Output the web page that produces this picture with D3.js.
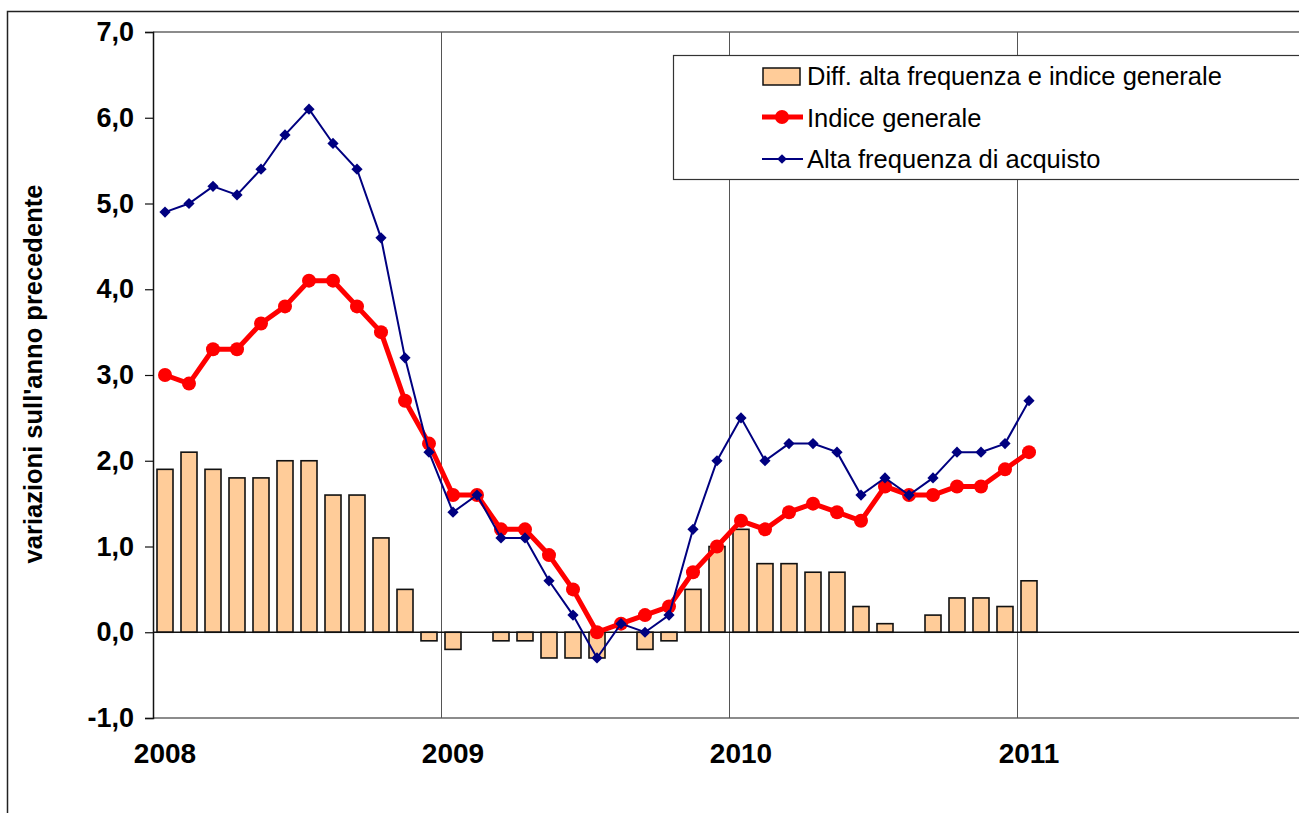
<!DOCTYPE html>
<html>
<head>
<meta charset="utf-8">
<script src="https://cdnjs.cloudflare.com/ajax/libs/d3/7.8.5/d3.min.js"></script>
<style>
    body { margin: 0; background: #fff; }
    svg { display: block; font-family: Arial, 'Liberation Sans', sans-serif; }
</style>
</head>
<body>
<svg id="chart" width="1299" height="813"></svg>
<script>
// mesi da gen 2008 a gen 2011
var years = ['2008', '2009', '2010', '2011'];
var yTicks = [-1, 0, 1, 2, 3, 4, 5, 6, 7];

var altaFrequenza = [4.9, 5.0, 5.2, 5.1, 5.4, 5.8, 6.1, 5.7, 5.4, 4.6, 3.2, 2.1,
    1.4, 1.6, 1.1, 1.1, 0.6, 0.2, -0.3, 0.1, 0.0, 0.2, 1.2, 2.0,
    2.5, 2.0, 2.2, 2.2, 2.1, 1.6, 1.8, 1.6, 1.8, 2.1, 2.1, 2.2,
    2.7];
var indiceGenerale = [3.0, 2.9, 3.3, 3.3, 3.6, 3.8, 4.1, 4.1, 3.8, 3.5, 2.7, 2.2,
    1.6, 1.6, 1.2, 1.2, 0.9, 0.5, 0.0, 0.1, 0.2, 0.3, 0.7, 1.0,
    1.3, 1.2, 1.4, 1.5, 1.4, 1.3, 1.7, 1.6, 1.6, 1.7, 1.7, 1.9,
    2.1];
var differenza = [1.9, 2.1, 1.9, 1.8, 1.8, 2.0, 2.0, 1.6, 1.6, 1.1, 0.5, -0.1,
    -0.2, 0.0, -0.1, -0.1, -0.3, -0.3, -0.3, 0.0, -0.2, -0.1, 0.5, 1.0,
    1.2, 0.8, 0.8, 0.7, 0.7, 0.3, 0.1, 0.0, 0.2, 0.4, 0.4, 0.3,
    0.6];

(function(){
    var svg = d3.select('#chart'),
        left = 153,
        right = 1305,
        top = 32,
        bottom = 718,
        barWidth = 16;

    var x = d3.scaleLinear().domain([0, 48]).range([left, right]);
    var y = d3.scaleLinear().domain([-1, 7]).range([bottom, top]);
    var fmt = function(d) { return d.toFixed(1).replace('.', ','); };

    // cornice esterna del grafico
    svg.append('rect')
        .attr('x', 7.5).attr('y', 11.5)
        .attr('width', 1400).attr('height', 1000)
        .attr('fill', '#fff')
        .attr('stroke', '#222')
        .attr('stroke-width', 1.5);

    // bordo area del grafico
    svg.append('line')
        .attr('x1', left).attr('x2', 1299)
        .attr('y1', top).attr('y2', top)
        .attr('stroke', '#666').attr('stroke-width', 1.5);
    svg.append('line')
        .attr('x1', left).attr('x2', 1299)
        .attr('y1', bottom).attr('y2', bottom)
        .attr('stroke', '#666').attr('stroke-width', 1.5);

    // griglia verticale per anno
    svg.append('g')
        .selectAll('line')
        .data([12, 24, 36])
        .enter().append('line')
        .attr('x1', function(d) { return Math.round(x(d)) + 0.5; })
        .attr('x2', function(d) { return Math.round(x(d)) + 0.5; })
        .attr('y1', top).attr('y2', bottom)
        .attr('stroke', '#555').attr('stroke-width', 1);

    // barre differenza
    svg.append('g')
        .selectAll('rect')
        .data(differenza)
        .enter().append('rect')
        .attr('x', function(d, i) { return x(i + 0.5) - barWidth / 2; })
        .attr('y', function(d) { return y(Math.max(0, d)); })
        .attr('width', barWidth)
        .attr('height', function(d) { return Math.abs(y(d) - y(0)); })
        .attr('fill', '#FFCC99')
        .attr('stroke', '#111')
        .attr('stroke-width', function(d) { return d === 0 ? 0 : 1.6; });

    // asse zero
    svg.append('line')
        .attr('x1', left).attr('x2', 1299)
        .attr('y1', y(0)).attr('y2', y(0))
        .attr('stroke', '#111').attr('stroke-width', 1.5);

    // asse y
    var yAxis = svg.append('g')
        .attr('transform', 'translate(' + left + ',0)')
        .call(d3.axisLeft(y).tickValues(yTicks).tickSize(8).tickPadding(11).tickFormat(fmt));
    yAxis.select('.domain').attr('stroke', '#111').attr('stroke-width', 1.5);
    yAxis.selectAll('.tick line').attr('stroke', '#111').attr('stroke-width', 1.2);
    yAxis.selectAll('.tick text')
        .attr('font-size', 27)
        .attr('font-weight', 'bold')
        .attr('font-family', 'Arial, Liberation Sans, sans-serif')
        .attr('fill', '#000');

    // etichette anni
    svg.append('g')
        .selectAll('text')
        .data(years)
        .enter().append('text')
        .attr('x', function(d, i) { return x(i * 12 + 0.5); })
        .attr('y', 763)
        .attr('text-anchor', 'middle')
        .attr('font-size', 28)
        .attr('font-weight', 'bold')
        .text(function(d) { return d; });

    // titolo asse y
    svg.append('text')
        .attr('transform', 'translate(42,' + ((top + bottom) / 2 - 1) + ') rotate(-90)')
        .attr('text-anchor', 'middle')
        .attr('font-size', 25.5)
        .attr('font-weight', 'bold')
        .text("variazioni sull'anno precedente");

    // linea indice generale
    var line = d3.line()
        .x(function(d, i) { return x(i + 0.5); })
        .y(function(d) { return y(d); });

    svg.append('path')
        .datum(indiceGenerale)
        .attr('d', line)
        .attr('fill', 'none')
        .attr('stroke', '#FF0000')
        .attr('stroke-width', 5)
        .attr('stroke-linejoin', 'round');

    svg.append('g')
        .selectAll('circle')
        .data(indiceGenerale)
        .enter().append('circle')
        .attr('cx', function(d, i) { return x(i + 0.5); })
        .attr('cy', function(d) { return y(d); })
        .attr('r', 7)
        .attr('fill', '#FF0000');

    // linea alta frequenza
    svg.append('path')
        .datum(altaFrequenza)
        .attr('d', line)
        .attr('fill', 'none')
        .attr('stroke', '#000080')
        .attr('stroke-width', 2);

    svg.append('g')
        .selectAll('path')
        .data(altaFrequenza)
        .enter().append('path')
        .attr('transform', function(d, i) { return 'translate(' + x(i + 0.5) + ',' + y(d) + ')'; })
        .attr('d', d3.symbol().type(d3.symbolDiamond2).size(80))
        .attr('fill', '#000080');

    // legenda
    var legend = svg.append('g');
    legend.append('rect')
        .attr('x', 673.5).attr('y', 55.5)
        .attr('width', 700).attr('height', 124)
        .attr('fill', '#fff')
        .attr('stroke', '#333').attr('stroke-width', 1.2);

    legend.append('rect')
        .attr('x', 763).attr('y', 68)
        .attr('width', 37).attr('height', 17)
        .attr('fill', '#FFCC99')
        .attr('stroke', '#111').attr('stroke-width', 1.5);

    legend.append('line')
        .attr('x1', 762).attr('x2', 803)
        .attr('y1', 117).attr('y2', 117)
        .attr('stroke', '#FF0000').attr('stroke-width', 5);
    legend.append('circle')
        .attr('cx', 782).attr('cy', 117).attr('r', 7)
        .attr('fill', '#FF0000');

    legend.append('line')
        .attr('x1', 762).attr('x2', 803)
        .attr('y1', 159).attr('y2', 159)
        .attr('stroke', '#000080').attr('stroke-width', 2);
    legend.append('path')
        .attr('transform', 'translate(782,159)')
        .attr('d', d3.symbol().type(d3.symbolDiamond2).size(60))
        .attr('fill', '#000080');

    legend.selectAll('text')
        .data(['Diff. alta frequenza e indice generale', 'Indice generale', 'Alta frequenza di acquisto'])
        .enter().append('text')
        .attr('x', 807)
        .attr('y', function(d, i) { return 85 + i * 41.5; })
        .attr('font-size', 25.5)
        .text(function(d) { return d; });
})();
</script>
</body>
</html>
